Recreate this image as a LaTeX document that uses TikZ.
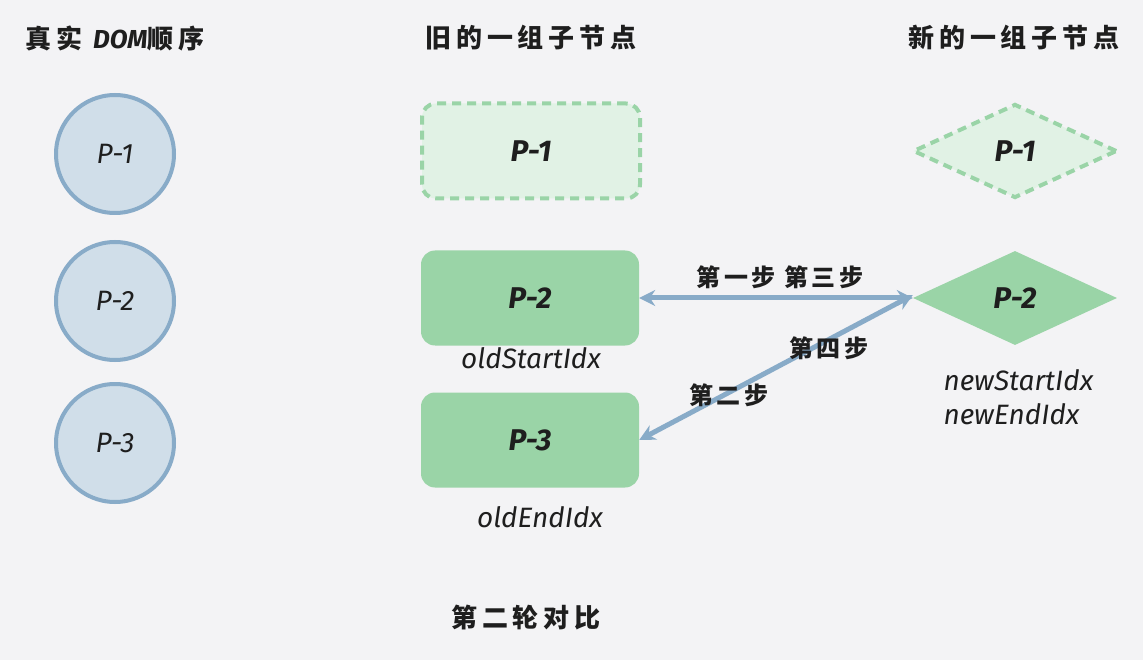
\documentclass[tikz,border=0pt]{standalone}
\usepackage{fontspec}
\setmainfont{Fira Sans}
\newfontfamily\cjk{Noto Sans CJK SC}[LetterSpace=18]
\newfontfamily\cjkstep{Noto Sans CJK SC}[LetterSpace=14]
\usetikzlibrary{shapes.geometric,arrows.meta}
\definecolor{bg}{HTML}{F3F3F5}
\definecolor{cfill}{HTML}{D0DEE9}
\definecolor{cline}{HTML}{88ABC8}
\definecolor{gfill}{HTML}{9AD4A7}
\definecolor{lfill}{HTML}{E1F2E5}
\definecolor{ink}{HTML}{1E1E1E}
\begin{document}
\begin{tikzpicture}[x=1pt,y=-1pt,
  every node/.style={text=ink},
  dom/.style={circle,draw=cline,fill=cfill,line width=4pt,minimum size=118pt,inner sep=0,font=\fontsize{28}{30}\selectfont\itshape},
  oldbox/.style={rectangle,rounded corners=14pt,fill=gfill,minimum width=218pt,minimum height=95pt,inner sep=0,font=\fontsize{30}{32}\selectfont\bfseries\itshape},
  oldghost/.style={oldbox,fill=lfill,draw=gfill,line width=4pt,dash pattern=on 9pt off 6pt},
  newdia/.style={diamond,fill=gfill,minimum width=204pt,minimum height=94pt,inner sep=0,font=\fontsize{30}{32}\selectfont\bfseries\itshape},
  newghost/.style={newdia,fill=lfill,draw=gfill,line width=4pt,dash pattern=on 9pt off 6pt},
  title/.style={font=\cjk\fontsize{26}{28}\selectfont\bfseries},
  steplabel/.style={font=\cjkstep\fontsize{24}{26}\selectfont\bfseries},
  idx/.style={font=\fontsize{28}{34}\selectfont\itshape},
  link/.style={draw=cline,line width=5pt,{Stealth[length=16pt,width=16pt]}-{Stealth[length=16pt,width=16pt]}}
]
\useasboundingbox[fill=bg] (0,0) rectangle (1143,660);

\node[title] (t1) at (115,38) {真实 {\fontspec{Fira Sans}\itshape\bfseries DOM}顺序};
\node[title] (t2) at (531,38) {旧的一组子节点};
\node[title] (t3) at (1014,38) {新的一组子节点};

\node[dom] (d1) at (115,154) {P-1};
\node[dom] (d2) at (115,301) {P-2};
\node[dom] (d3) at (115,443) {P-3};

\node[oldghost] (o1) at (531,151) {P-1};
\node[oldbox] (o2) at (530,298) {P-2};
\node[oldbox] (o3) at (530,440) {P-3};

\node[newghost] (n1) at (1015,151) {P-1};
\node[newdia] (n2) at (1015,298) {P-2};

\node[idx] (os) at (531,358) {oldStartIdx};
\node[idx] (oe) at (540,517) {oldEndIdx};
\node[idx,align=left,anchor=west] (ns) at (940,397) {newStartIdx\\newEndIdx};

\draw[link] (o2.east) -- (n2.west);
\draw[link] (o3.east) -- ([yshift=3pt]n2.west);

\node[steplabel] (s13) at (780,277) {第一步 第三步};
\node[steplabel] (s4) at (829,348) {第四步};
\node[steplabel] (s2) at (729,395) {第二步};

\node[title] (round) at (526,618) {第二轮对比};
\end{tikzpicture}
\end{document}
